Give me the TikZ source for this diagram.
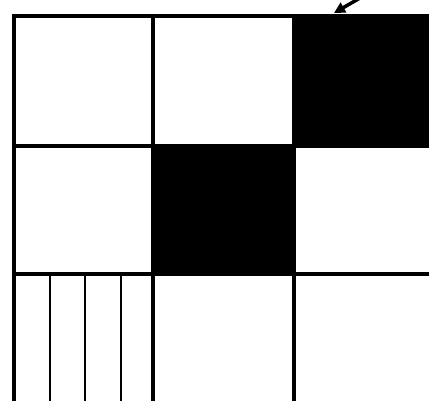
\documentclass[tikz,border=0pt]{standalone}
\usetikzlibrary{arrows.meta}
\begin{document}
\begin{tikzpicture}[x=1pt,y=-1pt,
  gridline/.style={line width=4.5pt,line cap=rect},
  thinline/.style={line width=2.5pt},
  cell/.style={draw=none,inner sep=0pt,outer sep=0pt,anchor=north west,fill=black},
  pointer/.style={line width=3.5pt,-{Triangle[length=11pt,width=11pt]}}]
\useasboundingbox (0,0) rectangle (429,401);
% black cells
\node[cell,minimum width=137pt,minimum height=131pt] (tr) at (293,15) {};
\node[cell,minimum width=141pt,minimum height=128pt] (mid) at (152,145) {};
% grid lines
\draw[gridline] (14,16) -- (429,16);
\draw[gridline] (14,146) -- (429,146);
\draw[gridline] (14,274) -- (429,274);
\draw[gridline] (14,16) -- (14,401);
\draw[gridline] (153,16) -- (153,401);
\draw[gridline] (294,16) -- (294,401);
% thin stripes in bottom-left cell
\draw[thinline] (50,274) -- (50,401);
\draw[thinline] (85,274) -- (85,401);
\draw[thinline] (121,274) -- (121,401);
% pointer
\coordinate (ptail) at (360,-2);
\coordinate (phead) at (334,13);
\draw[pointer] (ptail) -- (phead);
\end{tikzpicture}
\end{document}
